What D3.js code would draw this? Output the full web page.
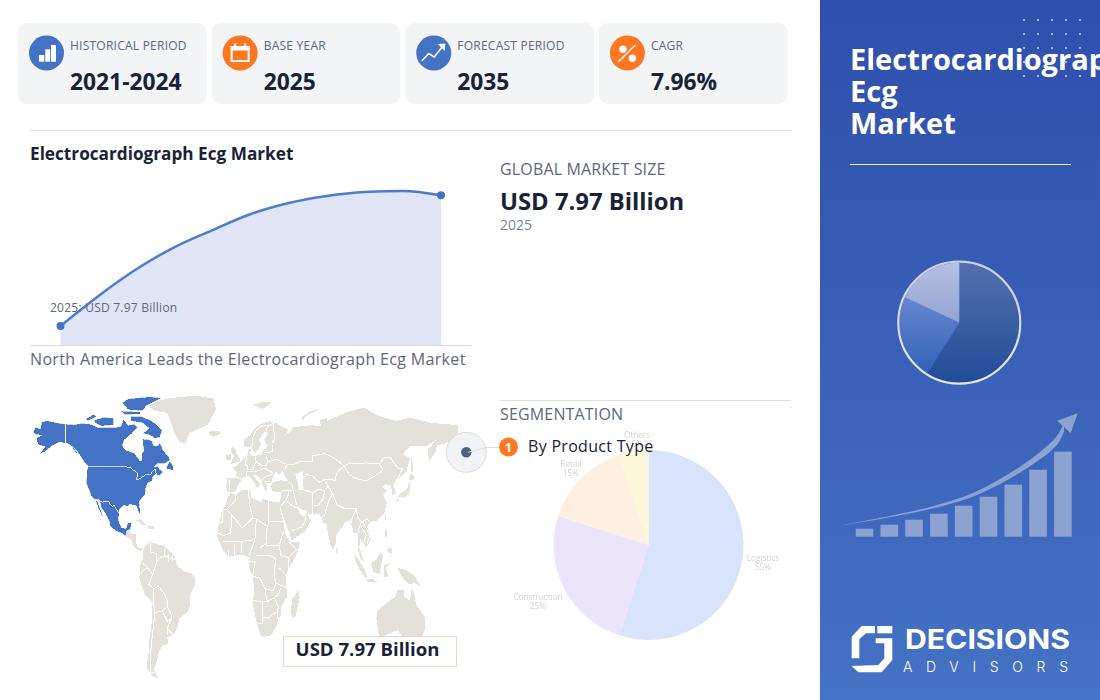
<!DOCTYPE html>
<html>
<head>
<meta charset="utf-8">
<title>Electrocardiograph Ecg Market</title>
<script src="https://cdn.jsdelivr.net/npm/d3@7"></script>
<style>
  html, body { margin: 0; padding: 0; background: #fff; overflow: hidden; }
  svg { display: block; font-family: "Open Sans", "Noto Sans", sans-serif; }
</style>
</head>
<body>
<div id="chart"></div>
<script>
// stat cards
const cardLabels = ["HISTORICAL PERIOD", "BASE YEAR", "FORECAST PERIOD", "CAGR"];
const cardValues = ["2021-2024", "2025", "2035", "7.96%"];

// market size line (USD billion)
const years = [2025, 2026, 2027, 2028, 2029, 2030, 2031, 2032, 2033, 2034, 2035];
const marketSize = [7.97, 10.07, 11.95, 13.49, 14.68, 15.8, 16.57, 17.06, 17.34, 17.41, 17.11];

// segmentation pie
const segments = ["Logistics", "Construction", "Retail", "Others"];
const segmentShare = [55, 25, 15, 5];

// side panel pie and growth bars
const sidePieShare = [59, 23, 18];
const sideBars = [8, 12, 17, 23, 31, 40, 52, 67, 85];
const arrowX = [-0.54, 3, 5.01, 7.03, 8.12, 8.4];
const arrowTop = [11.6, 29.8, 47, 77, 101, 114];
const arrowBottom = [11.2, 27.6, 43, 70.5, 92, 105];
const arrowHead = [[8.95, 123.4], [8.13, 116], [8.67, 103.4]];

// map outlines, [lon, lat]
const alaska = [[-168,65.5],[-166,68.3],[-162,67],[-161,70.5],[-156.5,71.3],[-150,70.4],[-141.5,69.6],[-141.5,60.2],[-137,58.9],[-133,55.5],[-131,55],[-135,58.5],[-140,59.7],[-146,60.8],[-150,59.5],[-153,58.5],[-158,56],[-163,54.7],[-158,58.5],[-162,59],[-165,61],[-165,63],[-161,64],[-166,64.5]];
const canada = [[-141,69.6],[-135,69.3],[-128,70],[-120,69.5],[-115,68],[-108,68],[-100,68],[-96,68.5],[-94,72],[-90,69],[-85,69.5],[-82,68],[-87,65],[-93,62],[-94.5,59],[-92.5,57],[-85,55.3],[-82,53],[-80,51.3],[-79,52],[-79,55],[-77,56.5],[-78,59],[-78,62.3],[-73,62],[-70,61],[-69,59],[-66,58.8],[-64,60.3],[-61,56.5],[-56,53],[-56,51.7],[-60,50.2],[-66,50],[-69,48.5],[-65,49],[-64.5,47.5],[-61,46],[-64,44.5],[-66,44.3],[-67,45.2],[-68,47.3],[-70,46.5],[-71.5,45],[-75,45],[-79,43.3],[-83,42],[-82.5,45.5],[-84.5,46.5],[-88.5,48.2],[-95,49],[-123,49],[-125,50],[-130,54.5],[-133,57],[-137,59],[-141,60.2]];
const usa = [[-123,49],[-95,49],[-88.5,48.2],[-84.5,46.5],[-82.5,45.5],[-83,42],[-79,43.3],[-75,45],[-71.5,45],[-70,46.5],[-68,47.3],[-67,45.2],[-70,43.5],[-70,41.7],[-74,40.5],[-75.5,38],[-76,35],[-78,33.8],[-81,31.5],[-80,27],[-80.5,25.2],[-82,27],[-83,29.2],[-85,29.7],[-89,30.2],[-90,29.2],[-94,29.6],[-97,27.8],[-97.3,26],[-99.5,27.5],[-101.5,29.8],[-103,29],[-106.5,31.8],[-111,31.3],[-114.8,32.5],[-117.2,32.5],[-120.5,34.5],[-122.5,37.7],[-124.3,40.3],[-124,46]];
const mexico = [[-114.8,32.5],[-111,31.3],[-106.5,31.8],[-103,29],[-101.5,29.8],[-99.5,27.5],[-97.3,26],[-97.8,22.3],[-95.5,18.8],[-91.5,18.5],[-90.5,21],[-87,21.5],[-88,18],[-91,17.2],[-91,16],[-92.2,14.5],[-95,16],[-100,17],[-105,19.7],[-105.5,22],[-109,26],[-112.5,29],[-113,31]];
const baja = [[-117.2,32.5],[-114.8,31.5],[-111.5,26],[-109.5,23],[-112,25],[-115,29]];
const baffin = [[-80,73.5],[-72,71.5],[-68,70],[-62,66.5],[-64,63],[-68,62.5],[-72,64],[-78,65],[-73,67.5],[-78,70],[-88,71],[-88,73.5]];
const victoriaIsland = [[-118,71.5],[-110,73],[-102,72.5],[-102,69],[-112,68.5],[-117,70]];
const ellesmere = [[-90,76.5],[-78,76],[-75,78.5],[-62,82.3],[-72,83],[-90,82],[-95,80]];
const banksIsland = [[-125,72],[-118,74.5],[-116,73],[-123,71]];
const devonIsland = [[-96,76],[-80,75.5],[-80,74.5],[-93,74]];
const newfoundland = [[-59,47.7],[-53,46.7],[-53,49],[-56,51.5],[-57.5,50]];

const greenland = [[-73,78.5],[-65,81],[-55,82.3],[-35,83.5],[-20,82],[-18,77],[-22,72],[-25,69],[-33,67],[-40,65],[-43,60],[-48,61],[-52,65],[-54,69],[-58,75],[-68,76]];
const iceland = [[-24,65.5],[-22,66.4],[-15,66.2],[-14,64.8],[-19,63.4],[-22.5,64]];
const eurasia = [[-9,37],[-9.5,38.8],[-9,43],[-1.8,43.4],[-1,46],[-4.5,48.4],[-1.5,48.8],[2,51],[4,52],[7,53.7],[8.5,55],[8.5,57],[10.5,57.5],[10,55],[11,54],[14,54],[19,54.5],[21,57],[24,58],[24,59.5],[30,60],[23,60],[21.5,62],[25,65],[22,65.8],[18,63],[17,61],[19,59.8],[16.5,57],[14,55.5],[12.8,56],[11,59],[8,58],[5.3,59],[5,62],[10,64],[14,67.5],[20,70],[26,71],[31,70],[41,67],[40,64.7],[36,64],[38,64],[44,66.3],[44,68],[54,68.5],[60,69],[68,68.5],[67,71.5],[73,72.5],[74,68],[73,71],[80,73],[90,75.5],[104,77.7],[113,74],[130,71],[140,72.7],[160,70],[170,69.5],[180,69],[180,65],[177,62.5],[170,60],[163,59],[162,56],[156.5,51],[155.7,57],[160,60],[163,62],[155,59],[142,59],[135,54.7],[141,53],[138,46.5],[132,43],[130,42.5],[127.5,39.8],[129.5,36],[126.5,34.5],[126,37.5],[125,39.5],[121,40],[118,39],[122,37],[119,35],[122,31],[120,26],[114,22.3],[108,21.5],[106,19],[109,13],[105,9],[103,11],[100,13.5],[99.5,9],[103.5,1.5],[101,3],[98.3,8],[98,16],[94.5,16],[94,18.5],[91.5,22.5],[88,21.7],[86.5,20],[80.3,15],[80,11],[78,8],[76,10],[73,18],[72.5,21],[70,21],[68,23.5],[66.5,25.3],[61,25.2],[57,25.7],[56.5,27],[51,28],[48,30],[50,26.5],[51.5,25],[54,24],[56.3,26],[59.8,22.5],[55,17],[45,13],[43.3,12.8],[42.7,16],[39,21],[35,28],[34.5,31.5],[36,36.5],[32,36.2],[28,36.7],[26.5,39],[29,41],[35,42],[41.5,41.5],[38,44.5],[37,47],[33.5,44.5],[31,46.5],[28,43],[28,41.2],[26,40.7],[23,40.5],[24,38],[22.5,36.7],[20,39.7],[19.5,42],[14,45],[12.5,44.3],[18.5,40],[16,38],[12,42],[8.5,44.3],[3,43.2],[3,41.7],[0,39.5],[-2,36.8],[-5.5,36]];
const africa = [[-6,35.8],[-2,35],[3,37],[10,37.3],[11,33.5],[15,32.3],[20,31],[20,33],[25,32],[32,31.2],[34.3,31.3],[34.5,28],[37,22],[39,15.5],[43,11.5],[51,12],[49,7],[44,1],[40,-3],[39,-7],[40.5,-15],[35,-20],[35.5,-24],[32.8,-26],[32,-29],[27,-34],[20,-34.8],[18,-33],[15,-27],[12,-18],[13.5,-12],[12,-5],[9,-1],[9.5,4],[5,5.5],[-4,5],[-8,4.5],[-13,8.5],[-17,14.5],[-16,20],[-13,27.5],[-10,30],[-9,33]];
const southAmerica = [[-77.5,8.5],[-72,12],[-67,10.7],[-61,10],[-52,5],[-50,0],[-44,-2.5],[-39,-3.5],[-35,-6],[-35,-9],[-39,-14],[-39,-19],[-41,-22.5],[-48,-25.5],[-49,-29],[-53,-33.8],[-58,-35],[-57,-38],[-62,-39],[-65,-42],[-66,-46],[-69,-51],[-65.5,-55],[-70,-54],[-75,-50],[-73,-42],[-73,-37],[-71,-30],[-70,-18],[-76,-14],[-81,-6],[-80,-2.5],[-80,1],[-77.5,3.8]];
const centralAmerica = [[-92.2,14.5],[-91,17.2],[-88,18],[-88.5,16],[-84,15.8],[-83.5,11],[-81.5,9],[-77.5,8.5],[-80,7.3],[-83,8.2],[-85.7,10],[-87.5,13]];
const cuba = [[-85,22],[-80,23],[-74.5,20],[-78,20],[-82,22]];
const hispaniola = [[-74,19.8],[-69,19.5],[-68.5,18.3],[-74,18]];
const britain = [[-5.5,50],[1.5,51.3],[1.7,52.7],[-1.5,55],[-2,57.5],[-5,58.5],[-6,56],[-3,54],[-5,52]];
const ireland = [[-10,52],[-6,52],[-6,55],[-10,54]];
const madagascar = [[49.3,-12],[50.5,-15.5],[47,-25],[44,-25],[43.5,-21],[44.5,-16]];
const honshu = [[130.9,34],[136,33.5],[140,35],[141.5,40],[140,41],[139,38],[133,35.5]];
const kyushu = [[130,33],[131.8,33],[131,31]];
const hokkaido = [[140,42],[141.5,45.5],[145,43.5],[143,42]];
const sakhalin = [[142,54],[143,50],[143.5,46],[142,46],[142,50]];
const taiwan = [[121,25],[122,25],[120.8,22],[120,23]];
const luzon = [[120.5,18.5],[122,18],[122,14],[120.5,14]];
const mindanao = [[122,8],[125.5,9.5],[126.3,6.5],[124,6]];
const sumatra = [[95.3,5.6],[98,4],[104,-2],[106,-5.8],[104,-5.5],[100,-2],[96,3]];
const borneo = [[109,1.5],[113,3],[117,7],[119,5],[117.5,1],[116,-4],[111,-3]];
const java = [[105.3,-6.5],[111,-6.5],[114.5,-8],[106,-7.6]];
const sulawesi = [[119.5,-5.5],[120,0.5],[125,1.5],[121,-1],[123,-5]];
const newGuinea = [[131,-1],[138,-2],[145,-5],[150.5,-10.5],[144,-8],[141,-9],[138,-8],[133,-4]];
const australia = [[114,-22],[113.5,-26],[115.5,-34.3],[118,-35],[124,-33],[131,-31.5],[135,-35],[138,-35.3],[141,-38.5],[147,-39],[150,-37.5],[153,-31],[153,-25],[146,-19],[145,-15],[142.5,-10.8],[141,-17],[136,-15],[136.5,-12],[131,-11.5],[129,-15],[122,-18]];
const sriLanka = [[80,9.7],[81.8,7.5],[80.5,6]];
const svalbard = [[12,79],[20,80.5],[28,80],[20,77]];
const novayaZemlya = [[52,71],[57,74],[68,77],[58,75.5],[53,73]];
const caspian = [[47,45],[53,46.5],[53,40],[54,37],[50,37.5],[49,40.5]];

const blueLand = [alaska, canada, usa, mexico, baja, baffin, victoriaIsland, ellesmere, banksIsland, devonIsland, newfoundland];
const greyLand = [greenland, iceland, eurasia, africa, southAmerica, centralAmerica, cuba, hispaniola, britain, ireland, madagascar, honshu, kyushu, hokkaido, sakhalin, taiwan, luzon, mindanao, sumatra, borneo, java, sulawesi, newGuinea, australia, sriLanka, svalbard, novayaZemlya];

// country borders
const asiaBorders = [
  [[38,47],[40,49.5],[47,50],[50,51],[61,51],[61,54],[71,55],[77,53.5],[83,51],[87,49],[92,50.5],[98,50],[105,50.5],[113,50],[116,50],[120,53.3],[125,53],[131,48],[135,48],[131,43]],
  [[87,49],[91,45],[96,43],[105,41.7],[112,44],[119,47],[116,50]],
  [[52,42],[56,45],[61,44],[67,41],[71,42.5],[80,42],[80.5,45],[83,47],[87,49]],
  [[53,37.5],[61,36],[66,37.5],[71,37],[74,39],[71,42]],
  [[61,36],[61,25.2]],
  [[61,29.5],[66,29.7],[70,33],[71,37]],
  [[68,23.7],[71,25],[74.5,32],[77,35],[78,35]],
  [[74,39],[78,35],[81,30],[88,28],[97,28],[98,24],[101,21.5],[106,23],[108,21.5]],
  [[92.5,21],[94,24],[97,28]],
  [[98,16],[101,21.5]],
  [[100.5,20],[105,15],[103,11]],
  [[102,22],[108,15],[106,11]],
  [[44.5,39.5],[46,35],[48,30]],
  [[36,36.7],[42,37],[44.5,37.2]],
  [[41.5,41.5],[44.5,39.5]],
  [[35,29.5],[39,32],[46,29],[48,28.5]],
  [[39,32],[41,34.5],[42,37]],
  [[43,17],[52,19],[55,22],[56,25]]
];
const europeBorders = [
  [[12,59],[12,63],[15,66.5],[20,69],[26,69]],
  [[23,66],[24,68],[29,70],[30,62],[28,60.5]],
  [[21,55.5],[28,56],[28,59.5]],
  [[14,54],[15,51],[19,49.5],[23,49],[24,51],[23.5,54]],
  [[24,51],[32,52.3],[38,50]],
  [[22,48],[29,45.5]],
  [[7,53.5],[6,50],[8,49],[7.5,47.5],[13,47.5],[13,49],[15,51]],
  [[7,44],[7,46],[13.5,46.5]],
  [[-1.8,43.4],[3,42.5]],
  [[-7,37],[-7,42],[-8.5,42]],
  [[13.5,46],[22,48]],
  [[19.5,42],[23,44],[29,45]],
  [[22,41.2],[26,41.5]]
];
const africaBorders = [
  [[-2,35],[-2,32],[-8.7,28]],
  [[-17,21.3],[-13,21.3],[-13,27.5],[-8.7,27.5]],
  [[-8.7,27.3],[-5,25],[3,19],[4.5,19],[12,23.5]],
  [[-5,25],[-6,16],[-12,15],[-16.5,16]],
  [[8.5,37],[9.5,30],[12,23.5]],
  [[25,32],[25,20]],
  [[12,23.5],[15,23],[24,19.5]],
  [[25,22],[37,22]],
  [[24,20],[23,11],[18,9]],
  [[3,12],[14,13]],
  [[15,23],[14,13]],
  [[14,13],[9,5]],
  [[-12,12],[3,12]],
  [[-8,8],[-8,4.5]],
  [[-3,11],[-3,5]],
  [[3,12],[2.7,6.3]],
  [[37,17],[34,10],[35,5],[42,4]],
  [[15,5],[27,5],[31,3.5]],
  [[23,10],[34,10]],
  [[42,11.5],[48,8],[41,4],[41,-1.5]],
  [[34,-1],[39.5,-4.7]],
  [[31,3.5],[29.5,-4],[31,-8.5],[40,-10.5]],
  [[12,-5],[18,-6],[22,-11],[29,-12],[31,-8.5]],
  [[9,2],[14,2],[12,-5]],
  [[12,-17],[24,-17.5],[22,-11]],
  [[24,-17.5],[30,-15.5],[33,-14],[35,-11]],
  [[30,-15.5],[33,-20],[32,-26]],
  [[20,-17.5],[20,-28],[16,-28.5]],
  [[20,-25],[25,-25.5],[31,-22.5]]
];
const southAmericaBorders = [
  [[-72,12],[-72,7],[-67,6],[-67,1.5]],
  [[-60,8.5],[-60,5],[-64,4]],
  [[-57,6],[-57,2]],
  [[-54,5.5],[-54,2.5]],
  [[-52,3],[-60,5]],
  [[-64,4],[-67,1.5],[-70,-4.2]],
  [[-78.5,1.5],[-75,-0.2],[-70,-4.2]],
  [[-80,-3.5],[-75,-1]],
  [[-70,-4.2],[-73,-9],[-69,-11],[-65,-10],[-60,-14],[-58,-17],[-58,-20]],
  [[-69,-11],[-69.5,-17.5],[-68,-23],[-70,-33],[-72,-45],[-72,-52],[-68.5,-52.5]],
  [[-68,-22.8],[-62,-22],[-58,-20]],
  [[-62,-22],[-58,-27],[-54.5,-26],[-55,-23],[-58,-20]],
  [[-58,-34],[-58,-30.5],[-53.5,-33.5]],
  [[-54.5,-26],[-58,-30.5]]
];
const borderLines = [...asiaBorders, ...europeBorders, ...africaBorders, ...southAmericaBorders];

// decoration dots on the panel
const dotCols = [0, 1, 2, 3, 4];
const dotRows = [0, 1, 2, 3, 4];

// logo shapes in logo units
const logoLeft = [[135,48],[95,48],[65,80],[65,145],[88,145],[88,88],[108,70],[135,70]];
const logoRight = [[142,48],[187,48],[187,70],[142,70]];
const logoHook = [[137,85],[187,85],[187,150],[155,187],[85,187],[65,168],[145,165],[163,145],[163,100],[137,100]];

const ink = "#1a2238";
const muted = "#5d667c";
const rule = "#e2e0d2";
const blue = "#4472c4";
const orange = "#ff7722";

const svg = d3.select("#chart").append("svg")
    .attr("width", 1100)
    .attr("height", 700);

const defs = svg.append("defs");

const panelGrad = defs.append("linearGradient")
    .attr("id", "panelGrad")
    .attr("x1", 0).attr("y1", 0).attr("x2", 0).attr("y2", 1);
panelGrad.append("stop").attr("offset", "0%").attr("stop-color", "#2f4fac");
panelGrad.append("stop").attr("offset", "100%").attr("stop-color", "#4472c4");

defs.append("filter").attr("id", "soft")
    .append("feGaussianBlur").attr("stdDeviation", 0.5);
defs.append("filter").attr("id", "softer")
    .append("feGaussianBlur").attr("stdDeviation", 0.45);

function addVerticalGrad(id, top, bottom) {
    const g = defs.append("linearGradient")
        .attr("id", id)
        .attr("gradientUnits", "userSpaceOnUse")
        .attr("x1", 0).attr("y1", -61).attr("x2", 0).attr("y2", 61);
    g.append("stop").attr("offset", "0%").attr("stop-color", top);
    g.append("stop").attr("offset", "100%").attr("stop-color", bottom);
}
addVerticalGrad("sliceDark", "#5470ac", "#204c98");
addVerticalGrad("sliceMid", "#7f98d8", "#2a5eb6");
addVerticalGrad("sliceLight", "#b6c1e2", "#6f86c4");
addVerticalGrad("pieRing", "#c9d1ea", "#e6e6e2");

// ---- cards ----
const cardX = d3.scaleBand().domain(d3.range(4)).range([18, 787.5]).paddingInner(0.026);

const cards = svg.append("g").selectAll("g")
    .data(cardLabels)
    .enter()
    .append("g")
    .attr("transform", (d, i) => `translate(${cardX(i)},23)`);

cards.append("rect")
    .attr("width", cardX.bandwidth())
    .attr("height", 81)
    .attr("rx", 9)
    .attr("fill", "#f3f4f6");

cards.append("circle")
    .attr("cx", 28.5)
    .attr("cy", 30)
    .attr("r", 17.5)
    .attr("fill", (d, i) => i % 2 ? orange : blue);

cards.append("text")
    .attr("x", 52)
    .attr("y", 27)
    .attr("font-size", 12)
    .attr("letter-spacing", "0.24px")
    .attr("fill", muted)
    .text(d => d);

cards.append("text")
    .attr("x", 52)
    .attr("y", 67)
    .attr("font-size", 22.8)
    .attr("font-weight", 700)
    .attr("fill", ink)
    .text((d, i) => cardValues[i]);

// card glyphs
const barsIcon = cards.filter((d, i) => i === 0).append("g").attr("fill", "#fff");
barsIcon.append("rect").attr("x", 21).attr("y", 32).attr("width", 5.3).attr("height", 6.7);
barsIcon.append("rect").attr("x", 27.3).attr("y", 26.3).attr("width", 4.8).attr("height", 12.4);
barsIcon.append("rect").attr("x", 33).attr("y", 22).attr("width", 5).attr("height", 16.7);

const calendarIcon = cards.filter((d, i) => i === 1).append("g");
calendarIcon.append("rect").attr("x", 20).attr("y", 24).attr("width", 17).attr("height", 14)
    .attr("fill", "none").attr("stroke", "#fff").attr("stroke-width", 2);
calendarIcon.append("rect").attr("x", 19).attr("y", 23).attr("width", 19).attr("height", 4.5).attr("fill", "#fff");
calendarIcon.append("rect").attr("x", 22.5).attr("y", 20.5).attr("width", 2).attr("height", 3).attr("fill", "#fff");
calendarIcon.append("rect").attr("x", 32.5).attr("y", 20.5).attr("width", 2).attr("height", 3).attr("fill", "#fff");

const trendIcon = cards.filter((d, i) => i === 2).append("g");
trendIcon.append("path")
    .attr("d", "M16.5 38 L23.5 30.5 L29 34 L38 22.5")
    .attr("fill", "none").attr("stroke", "#fff").attr("stroke-width", 1.5);
trendIcon.append("path")
    .attr("d", "M32.5 21 L40 20.5 L39.5 28 Z")
    .attr("fill", "#fff");

const percentIcon = cards.filter((d, i) => i === 3).append("g");
percentIcon.append("line")
    .attr("x1", 19.5).attr("y1", 38.7).attr("x2", 36.5).attr("y2", 22)
    .attr("stroke", "#fff").attr("stroke-width", 1.3);
percentIcon.append("circle").attr("cx", 24).attr("cy", 26.3).attr("r", 3.7).attr("fill", "#fff");
percentIcon.append("circle").attr("cx", 33.5).attr("cy", 35.3).attr("r", 3.7).attr("fill", "#fff");

// ---- rules ----
svg.append("line").attr("x1", 30).attr("x2", 791).attr("y1", 130.5).attr("y2", 130.5).attr("stroke", rule);
svg.append("line").attr("x1", 30).attr("x2", 471).attr("y1", 345.5).attr("y2", 345.5).attr("stroke", "#dbdad4");
svg.append("line").attr("x1", 500).attr("x2", 791).attr("y1", 400.5).attr("y2", 400.5).attr("stroke", rule);

// ---- market size ----
svg.append("text")
    .attr("x", 30).attr("y", 160)
    .attr("font-size", 17.2).attr("font-weight", 700).attr("fill", ink)
    .text("Electrocardiograph Ecg Market");

const xYear = d3.scaleLinear().domain([2025, 2035]).range([60.5, 441]);
const yMarket = d3.scaleLinear().domain([6.64, 17.41]).range([345, 191]);

const area = d3.area()
    .x((d, i) => xYear(years[i]))
    .y0(345)
    .y1(d => yMarket(d))
    .curve(d3.curveMonotoneX);

const line = d3.line()
    .x((d, i) => xYear(years[i]))
    .y(d => yMarket(d))
    .curve(d3.curveMonotoneX);

svg.append("path").datum(marketSize).attr("d", area).attr("fill", "#e0e5f7");
svg.append("path").datum(marketSize).attr("d", line)
    .attr("fill", "none").attr("stroke", "#4f7bce").attr("stroke-width", 2.5);

svg.selectAll(".end-dot")
    .data([0, years.length - 1])
    .enter()
    .append("circle")
    .attr("class", "end-dot")
    .attr("cx", i => xYear(years[i]))
    .attr("cy", i => yMarket(marketSize[i]))
    .attr("r", 4)
    .attr("fill", blue);

svg.append("text")
    .attr("x", 50).attr("y", 312)
    .attr("font-size", 12).attr("letter-spacing", "0.24px").attr("fill", muted)
    .text("2025: USD 7.97 Billion");

svg.append("text").attr("x", 500).attr("y", 175)
    .attr("font-size", 16).attr("letter-spacing", "0.16px").attr("fill", muted).text("GLOBAL MARKET SIZE");
svg.append("text").attr("x", 500).attr("y", 210)
    .attr("font-size", 23.8).attr("font-weight", 700).attr("fill", ink).text("USD 7.97 Billion");
svg.append("text").attr("x", 500).attr("y", 230)
    .attr("font-size", 14).attr("fill", "#7b8396").text("2025");

svg.append("text").attr("x", 30).attr("y", 365)
    .attr("font-size", 16).attr("letter-spacing", "0.34px").attr("fill", muted)
    .text("North America Leads the Electrocardiograph Ecg Market");

// ---- map ----
const lonScale = d3.scaleLinear().domain([-168, 180]).range([33, 457.6]);
const latScale = d3.scaleLinear().domain([0, 49]).range([566, 466]);

const mapLine = d3.line()
    .x(d => lonScale(d[0]))
    .y(d => latScale(d[1]));

const mapG = svg.append("g").attr("shape-rendering", "crispEdges");

mapG.selectAll(".grey-land")
    .data(greyLand)
    .enter()
    .append("path")
    .attr("class", "grey-land")
    .attr("d", d => mapLine(d) + "Z")
    .attr("fill", "#e3e1da");

mapG.append("path")
    .attr("d", mapLine(caspian) + "Z")
    .attr("fill", "#fff");

mapG.selectAll(".border")
    .data(borderLines)
    .enter()
    .append("path")
    .attr("class", "border")
    .attr("d", d => mapLine(d))
    .attr("fill", "none")
    .attr("stroke", "#fff")
    .attr("stroke-width", 1);

mapG.selectAll(".blue-land")
    .data(blueLand)
    .enter()
    .append("path")
    .attr("class", "blue-land")
    .attr("d", d => mapLine(d) + "Z")
    .attr("fill", blue)
    .attr("stroke", "#fff")
    .attr("stroke-width", 0.7);

// callout on the map
svg.append("circle")
    .attr("cx", 466.3).attr("cy", 452.3).attr("r", 20)
    .attr("fill", "#f2f3f6").attr("stroke", "#dfddd1").attr("stroke-width", 1);
svg.append("circle")
    .attr("cx", 466.3).attr("cy", 452.3).attr("r", 5.2)
    .attr("fill", "#4f5f80");
svg.append("path")
    .attr("d", "M468 452.3 L487 447.4 L500 447.4")
    .attr("fill", "none").attr("stroke", "#dfddd1").attr("stroke-width", 1);

svg.append("rect")
    .attr("x", 283.5).attr("y", 636.5).attr("width", 173).attr("height", 30)
    .attr("fill", "#fff").attr("stroke", "#dfdccb");
svg.append("text")
    .attr("x", 367.5).attr("y", 656)
    .attr("text-anchor", "middle")
    .attr("font-size", 18.6).attr("font-weight", 700).attr("fill", ink)
    .text("USD 7.97 Billion");

// ---- segmentation ----
svg.append("text").attr("x", 500).attr("y", 420)
    .attr("font-size", 16).attr("letter-spacing", "0.16px").attr("fill", muted).text("SEGMENTATION");

const segColor = d3.scaleOrdinal().domain(segments).range(["#d8e3fc", "#ece4fb", "#fdf0e0", "#fef6da"]);
const segPie = d3.pie().sort(null).value(d => d);
const segArc = d3.arc().innerRadius(0).outerRadius(95);
const segLabelX = d3.scaleOrdinal().domain(segments).range([763, 538, 571, 637]);
const segLabelY = d3.scaleOrdinal().domain(segments).range([561, 600, 467, 438]);

const segG = svg.append("g").attr("transform", "translate(648.5,545)").attr("filter", "url(#soft)");
segG.selectAll("path")
    .data(segPie(segmentShare))
    .enter()
    .append("path")
    .attr("d", segArc)
    .attr("fill", (d, i) => segColor(segments[i]));

const segLabels = svg.append("g").attr("filter", "url(#softer)");
segments.forEach((name, i) => {
    const t = segLabels.append("text")
        .attr("x", segLabelX(name))
        .attr("y", segLabelY(name))
        .attr("text-anchor", "middle")
        .attr("font-size", 8.2)
        .attr("fill", "#d3d3d3");
    t.append("tspan").attr("x", segLabelX(name)).text(name);
    t.append("tspan").attr("x", segLabelX(name)).attr("dy", 9).text(segmentShare[i] + "%");
});

svg.append("circle").attr("cx", 508.5).attr("cy", 447).attr("r", 9.5).attr("fill", orange);
svg.append("text")
    .attr("x", 508.5).attr("y", 452)
    .attr("text-anchor", "middle")
    .attr("font-size", 13).attr("font-weight", 700).attr("fill", "#fff")
    .text("1");
svg.append("text")
    .attr("x", 528).attr("y", 452)
    .attr("font-size", 16).attr("letter-spacing", "0.3px").attr("fill", ink)
    .text("By Product Type");

// ---- side panel ----
svg.append("rect")
    .attr("x", 820).attr("y", 0).attr("width", 280).attr("height", 700)
    .attr("fill", "url(#panelGrad)");

const titleLines = ["Electrocardiograph", "Ecg", "Market"];
svg.append("g").selectAll("text")
    .data(titleLines)
    .enter()
    .append("text")
    .attr("x", 850)
    .attr("y", (d, i) => 70 + i * 32)
    .attr("font-size", 29)
    .attr("font-weight", 700)
    .attr("fill", "#fff")
    .text(d => d);

svg.append("line")
    .attr("x1", 850).attr("x2", 1071).attr("y1", 164.5).attr("y2", 164.5)
    .attr("stroke", "#fff").attr("stroke-opacity", 0.9);

const dotX = d3.scalePoint().domain(dotCols).range([1024, 1080]);
const dotY = d3.scalePoint().domain(dotRows).range([20, 76]);
const dots = dotRows.flatMap(r => dotCols.map(c => ({ r, c })));
svg.append("g").selectAll("circle")
    .data(dots)
    .enter()
    .append("circle")
    .attr("cx", d => dotX(d.c))
    .attr("cy", d => dotY(d.r))
    .attr("r", 1)
    .attr("fill", "#fff")
    .attr("opacity", 0.8);

// side pie
const sidePie = d3.pie().sort(null).value(d => d);
const sideArc = d3.arc().innerRadius(0).outerRadius(60);
const sideFills = ["url(#sliceDark)", "url(#sliceMid)", "url(#sliceLight)"];

const sideG = svg.append("g").attr("transform", "translate(959.3,322.7)");
sideG.selectAll("path")
    .data(sidePie(sidePieShare))
    .enter()
    .append("path")
    .attr("d", sideArc)
    .attr("fill", (d, i) => sideFills[i]);
sideG.append("circle")
    .attr("r", 61)
    .attr("fill", "none").attr("stroke", "url(#pieRing)").attr("stroke-width", 2.2);

// side bars and arrow
const sideX = d3.scaleBand().domain(d3.range(sideBars.length)).range([855.7, 1071.7]).paddingInner(0.29);
const sideXLin = d3.scaleLinear().domain([0, 1]).range([855.7, 855.7 + sideX.step()]);
const sideY = d3.scaleLinear().domain([0, 85]).range([536.7, 451.7]);

svg.append("g").selectAll("rect")
    .data(sideBars)
    .enter()
    .append("rect")
    .attr("x", (d, i) => sideX(i))
    .attr("y", d => sideY(d))
    .attr("width", sideX.bandwidth())
    .attr("height", d => sideY(0) - sideY(d))
    .attr("fill", "#8ca3d2");

const arrowBody = d3.area()
    .x((d, i) => sideXLin(arrowX[i]))
    .y0((d, i) => sideY(arrowBottom[i]))
    .y1((d, i) => sideY(arrowTop[i]))
    .curve(d3.curveCatmullRom);

svg.append("path")
    .attr("d", arrowBody(arrowX))
    .attr("fill", "#8ca3d2");

svg.append("path")
    .attr("d", d3.line().x(d => sideXLin(d[0])).y(d => sideY(d[1]))(arrowHead) + "Z")
    .attr("fill", "#8ca3d2");

// logo
const logoX = d3.scaleLinear().domain([0, 780]).range([830, 1090]);
const logoY = d3.scaleLinear().domain([0, 240]).range([610, 690]);
const logoLine = d3.line().x(d => logoX(d[0])).y(d => logoY(d[1]));

svg.append("g").selectAll("path")
    .data([logoLeft, logoRight, logoHook])
    .enter()
    .append("path")
    .attr("d", d => logoLine(d) + "Z")
    .attr("fill", "#fff");

svg.append("text")
    .attr("x", 905).attr("y", 649)
    .attr("font-family", "Inter, sans-serif")
    .attr("font-size", 26.5).attr("font-weight", 700).attr("fill", "#fff")
    .attr("textLength", 165).attr("lengthAdjust", "spacingAndGlyphs")
    .text("DECISIONS");

svg.append("text")
    .attr("x", 903).attr("y", 672)
    .attr("font-family", "Inter, sans-serif")
    .attr("font-size", 14).attr("font-weight", 300).attr("fill", "#fff")
    .attr("textLength", 165).attr("lengthAdjust", "spacing")
    .text("ADVISORS");
</script>
</body>
</html>
